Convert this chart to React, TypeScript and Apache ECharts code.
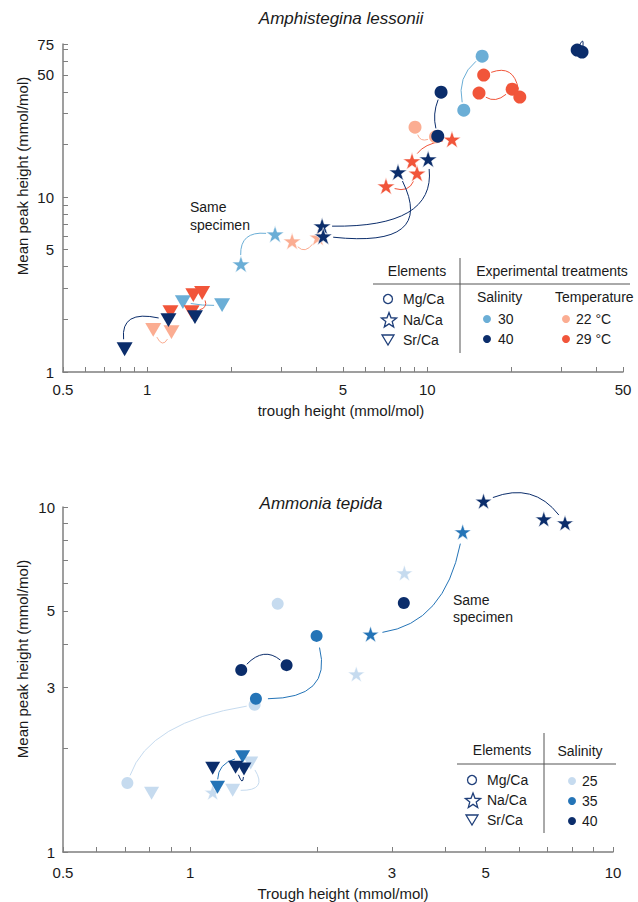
import React, { useEffect, useRef } from 'react';
import * as echarts from 'echarts';

// ---------- Amphistegina lessonii (top) ----------
const A_X_TICKS = [0.5, 0.6, 0.7, 0.8, 0.9, 1, 2, 3, 4, 5, 6, 7, 8, 9, 10, 20, 30, 40, 50];
const A_X_LABELS = [0.5, 1, 5, 10, 50];
const A_Y_TICKS = [1, 2, 3, 4, 5, 6, 7, 8, 9, 10, 20, 30, 40, 50, 60, 70, 75];
const A_Y_LABELS = [1, 5, 10, 50, 75];

const A_MG_S30 = [[15.7, 63.9], [13.5, 31.4]];
const A_MG_S40 = [[34.3, 69.2], [35.7, 67.4], [11.2, 39.8], [10.9, 22.3]];
const A_MG_T22 = [[9.04, 25.1], [10.7, 22.1]];
const A_MG_T29 = [[15.9, 49.8], [15.3, 39.3], [20.1, 41.4], [21.4, 37.3]];
const A_NA_S30 = [[2.86, 6.14], [2.16, 4.14]];
const A_NA_S40 = [[10.07, 16.5], [7.86, 13.9], [4.21, 6.83], [4.25, 5.98]];
const A_NA_T22 = [[3.29, 5.6], [4.07, 5.9]];
const A_NA_T29 = [[12.25, 21.4], [8.82, 16.1], [9.19, 13.7], [7.12, 11.56]];
const A_SR_S30 = [[1.34, 2.51], [1.85, 2.41]];
const A_SR_S40 = [[0.83, 1.35], [1.19, 1.98], [1.48, 2.06]];
const A_SR_T22 = [[1.05, 1.74], [1.22, 1.69]];
const A_SR_T29 = [[1.21, 2.2], [1.46, 2.75], [1.57, 2.83], [1.44, 2.2]];

// same-specimen links: pairs of points, colour key
const A_LINKS = [
  { c: 's40', from: [34.3, 69.2], to: [35.7, 67.4] },
  { c: 's30', from: [15.7, 63.9], to: [13.5, 31.4] },
  { c: 't29', from: [15.9, 49.8], to: [21.4, 37.3] },
  { c: 't29', from: [15.3, 39.3], to: [20.1, 41.4] },
  { c: 's40', from: [11.2, 39.8], to: [10.9, 22.3] },
  { c: 't22', from: [9.04, 25.1], to: [10.7, 22.1] },
  { c: 't29', from: [8.82, 16.1], to: [12.25, 21.4] },
  { c: 't29', from: [7.12, 11.56], to: [9.19, 13.7] },
  { c: 's40', from: [4.21, 6.83], to: [10.07, 16.5] },
  { c: 's40', from: [4.25, 5.98], to: [7.86, 13.9] },
  { c: 't22', from: [3.29, 5.6], to: [4.07, 5.9] },
  { c: 's30', from: [2.16, 4.14], to: [2.86, 6.14] },
  { c: 's40', from: [0.83, 1.35], to: [1.19, 1.98] },
  { c: 't22', from: [1.05, 1.74], to: [1.22, 1.69] },
  { c: 's30', from: [1.34, 2.51], to: [1.85, 2.41] },
  { c: 't29', from: [1.57, 2.83], to: [1.44, 2.2] },
];
// curve styling (control-point offset in px, end gap in px)
const A_BENDS = [[6, -20, 0], [-16, -6, 8], [12, -22, 8], [0, 12, 8], [-7, 0, 8], [-5, 10, 8], [-8, -6, 9], [7, 13, 9], [60, 35, 10], [75, 44, 10], [0, 15, 8], [-18, -18, 9], [-26, -25, 10], [0, 17, 8], [0, 2, 8], [11, 5, 8]];

// ---------- Ammonia tepida (bottom) ----------
const B_X_TICKS = [0.5, 0.6, 0.7, 0.8, 0.9, 1, 2, 3, 4, 5, 6, 7, 8, 9, 10];
const B_X_LABELS = [0.5, 1, 3, 5, 10];
const B_Y_TICKS = [1, 2, 3, 4, 5, 6, 7, 8, 9, 10];
const B_Y_LABELS = [1, 3, 5, 10];

const B_MG_S25 = [[1.61, 5.24], [1.42, 2.67], [0.71, 1.585]];
const B_MG_S35 = [[1.99, 4.23], [1.43, 2.78]];
const B_MG_S40 = [[3.2, 5.27], [1.69, 3.48], [1.32, 3.37]];
const B_NA_S25 = [[3.21, 6.44], [2.47, 3.28], [1.13, 1.49]];
const B_NA_S35 = [[4.41, 8.47], [2.67, 4.28]];
const B_NA_S40 = [[4.94, 10.4], [6.86, 9.23], [7.7, 8.99]];
const B_SR_S25 = [[1.39, 1.81], [1.26, 1.51], [0.81, 1.48]];
const B_SR_S35 = [[1.33, 1.89], [1.16, 1.54]];
const B_SR_S40 = [[1.13, 1.75], [1.28, 1.76], [1.34, 1.74]];

const B_LINKS = [
  { c: 'b40', from: [4.94, 10.4], to: [7.7, 8.99] },
  { c: 'b35', from: [2.67, 4.28], to: [4.41, 8.47] },
  { c: 'b40', from: [1.32, 3.37], to: [1.69, 3.48] },
  { c: 'b35', from: [1.99, 4.23], to: [1.43, 2.78] },
  { c: 'b25', from: [0.71, 1.585], to: [1.42, 2.67] },
  { c: 'b35', from: [1.16, 1.54], to: [1.33, 1.89] },
  { c: 'b25', from: [1.26, 1.51], to: [1.39, 1.81] },
  { c: 'b40', from: [1.28, 1.76], to: [1.34, 1.74] },
];
const B_BENDS = [[9, -30, 10], [28, 40, 12], [0, -21, 8], [46, 31, 12], [-42, -22, 8], [-12, -8, 8], [26, 14, 8], [3, 18, 8]];

const COLORS: Record<string, string> = {
  s30: '#6baed6',
  s40: '#0b2d6b',
  t22: '#fbad92',
  t29: '#f1553a',
  b25: '#c6dbef',
  b35: '#2474b7',
  b40: '#0b2d6b',
};

const AXIS = '#7f7f7f';
const TXT = '#1a1a1a';
const FONT = '"Liberation Sans", Arial, sans-serif';
const NAVY = '#1f3f7a';

const STAR = 'path://M50,2 L61.2,36.2 L97.1,36.2 L68.1,57.3 L79.2,91.5 L50,70.4 L20.8,91.5 L31.9,57.3 L2.9,36.2 L38.8,36.2 Z';
const TRI = 'path://M0,0 L100,0 L50,86.6 Z';

function scatter(data: number[][], idx: number, kind: string, color: string, big: boolean) {
  let symbol = 'circle';
  let size = big ? 13 : 12;
  if (kind === 'star') { symbol = STAR; size = big ? 18 : 17; }
  if (kind === 'tri') { symbol = TRI; size = big ? 16 : 15; }
  return {
    type: 'scatter',
    xAxisIndex: idx,
    yAxisIndex: idx,
    data,
    symbol,
    symbolSize: size,
    symbolKeepAspect: true,
    clip: false,
    itemStyle: { color, opacity: 1, borderColor: kind === 'star' ? '#ffffff' : undefined, borderWidth: kind === 'star' ? 0.6 : 0 },
    silent: true,
    z: 3,
  };
}

function links(list: any[], bends: number[][], idx: number) {
  return {
    type: 'custom',
    xAxisIndex: idx,
    yAxisIndex: idx,
    silent: true,
    clip: false,
    z: 2,
    data: list.map((l) => [l.from[0], l.from[1], l.to[0], l.to[1]]),
    encode: { x: [0, 2], y: [1, 3] },
    renderItem: (params: any, api: any) => {
      const l = list[params.dataIndex];
      const b = bends[params.dataIndex];
      const p1 = api.coord([api.value(0), api.value(1)]);
      const p2 = api.coord([api.value(2), api.value(3)]);
      const cx = (p1[0] + p2[0]) / 2 + b[0];
      const cy = (p1[1] + p2[1]) / 2 + b[1];
      const sh = (p: number[]) => {
        const dx = cx - p[0];
        const dy = cy - p[1];
        const d = Math.sqrt(dx * dx + dy * dy) || 1;
        return [p[0] + (dx / d) * b[2], p[1] + (dy / d) * b[2]];
      };
      const s = sh(p1);
      const e = sh(p2);
      return {
        type: 'bezierCurve',
        shape: { x1: s[0], y1: s[1], x2: e[0], y2: e[1], cpx1: cx, cpy1: cy },
        style: { stroke: COLORS[l.c], lineWidth: 1, fill: 'none' },
      };
    },
  };
}

function logAxis(idx: number, min: number, max: number, ticks: number[], labels: number[], margin: number) {
  return {
    gridIndex: idx,
    type: 'log',
    logBase: 10,
    min,
    max,
    axisLine: { show: true, onZero: false, lineStyle: { color: AXIS, width: 1.5 } },
    axisTick: { show: true, inside: true, length: 5, customValues: ticks, lineStyle: { color: AXIS, width: 1 } },
    axisLabel: {
      show: true,
      customValues: labels,
      margin,
      fontSize: 15,
      color: TXT,
      fontFamily: FONT,
      formatter: (v: number) => String(v),
      showMinLabel: true,
      showMaxLabel: true,
    },
    splitLine: { show: false },
    minorTick: { show: false },
  };
}

function starPts(cx: number, cy: number, R: number, r: number) {
  const pts: number[][] = [];
  for (let i = 0; i < 10; i++) {
    const a = -Math.PI / 2 + (i * Math.PI) / 5;
    const rad = i % 2 ? r : R;
    pts.push([cx + rad * Math.cos(a), cy + rad * Math.sin(a)]);
  }
  return pts;
}

function txt(x: number, y: number, text: string, size: number, align = 'left', extra: any = {}) {
  return {
    type: 'text',
    x,
    y,
    silent: true,
    style: { text, fontSize: size, fontFamily: FONT, fill: TXT, align, verticalAlign: 'middle', ...extra },
  };
}

function dot(x: number, y: number, color: string) {
  return { type: 'circle', silent: true, shape: { cx: x, cy: y, r: 4 }, style: { fill: color } };
}

function elementKey(x: number, y0: number, dy: number, tx: number) {
  return [
    { type: 'circle', silent: true, shape: { cx: x, cy: y0, r: 4.5 }, style: { fill: 'none', stroke: NAVY, lineWidth: 1.3 } },
    { type: 'polygon', silent: true, shape: { points: starPts(x + 1, y0 + dy + 1, 8, 3.4) }, style: { fill: 'none', stroke: NAVY, lineWidth: 1.3 } },
    { type: 'polygon', silent: true, shape: { points: [[x - 6, y0 + 2 * dy - 5], [x + 6, y0 + 2 * dy - 5], [x, y0 + 2 * dy + 5]] }, style: { fill: 'none', stroke: NAVY, lineWidth: 1.3 } },
    txt(tx, y0, 'Mg/Ca', 14),
    txt(tx, y0 + dy, 'Na/Ca', 14),
    txt(tx, y0 + 2 * dy, 'Sr/Ca', 14),
  ];
}

export default function App() {
  const ref = useRef<HTMLDivElement>(null);
  useEffect(() => {
    if (!ref.current) return;
    const chart = echarts.init(ref.current, undefined, { renderer: 'svg' });
    const graphic: any[] = [
      txt(341, 18, 'Amphistegina lessonii', 17, 'center', { fontStyle: 'italic' }),
      txt(321, 503, 'Ammonia tepida', 17, 'center', { fontStyle: 'italic' }),
      txt(341, 410, 'trough height (mmol/mol)', 15, 'center'),
      txt(343, 893, 'Trough height (mmol/mol)', 15, 'center'),
      { ...txt(22, 176, 'Mean peak height (mmol/mol)', 15, 'center'), rotation: Math.PI / 2 },
      { ...txt(22, 659, 'Mean peak height (mmol/mol)', 15, 'center'), rotation: Math.PI / 2 },
      txt(190, 207, 'Same', 14),
      txt(190, 225, 'specimen', 14),
      txt(453, 600, 'Same', 14),
      txt(453, 617, 'specimen', 14),
      // top legend
      txt(417, 271, 'Elements', 14, 'center'),
      txt(552, 271, 'Experimental treatments', 14, 'center'),
      { type: 'line', silent: true, shape: { x1: 460, y1: 258, x2: 460, y2: 353 }, style: { stroke: '#555', lineWidth: 1 } },
      { type: 'line', silent: true, shape: { x1: 373, y1: 284, x2: 630, y2: 284 }, style: { stroke: '#555', lineWidth: 1 } },
      ...elementKey(388, 299, 20.5, 403),
      txt(477, 297, 'Salinity', 14),
      txt(555, 297, 'Temperature', 14),
      dot(487, 319, COLORS.s30),
      dot(487, 339, COLORS.s40),
      txt(498, 319, '30', 14),
      txt(498, 339, '40', 14),
      dot(566, 319, COLORS.t22),
      dot(566, 339, COLORS.t29),
      txt(576, 319, '22 °C', 14),
      txt(576, 339, '29 °C', 14),
      // bottom legend
      txt(502, 750, 'Elements', 14, 'center'),
      txt(580, 751, 'Salinity', 14, 'center'),
      { type: 'line', silent: true, shape: { x1: 544, y1: 733, x2: 544, y2: 833 }, style: { stroke: '#555', lineWidth: 1 } },
      { type: 'line', silent: true, shape: { x1: 457, y1: 764, x2: 616, y2: 764 }, style: { stroke: '#555', lineWidth: 1 } },
      ...elementKey(472, 780, 20, 487),
      dot(572, 781, COLORS.b25),
      dot(572, 801, COLORS.b35),
      dot(572, 821, COLORS.b40),
      txt(582, 781, '25', 14),
      txt(582, 801, '35', 14),
      txt(582, 821, '40', 14),
    ];

    chart.setOption({
      animation: false,
      backgroundColor: '#ffffff',
      grid: [
        { left: 63, top: 44, width: 560, height: 328, containLabel: false },
        { left: 63, top: 507, width: 550, height: 345, containLabel: false },
      ],
      xAxis: [
        logAxis(0, 0.5, 50, A_X_TICKS, A_X_LABELS, 10),
        logAxis(1, 0.5, 10, B_X_TICKS, B_X_LABELS, 13),
      ],
      yAxis: [
        logAxis(0, 1, 75, A_Y_TICKS, A_Y_LABELS, 9),
        logAxis(1, 1, 10, B_Y_TICKS, B_Y_LABELS, 8),
      ],
      series: [
        links(A_LINKS, A_BENDS, 0),
        scatter(A_MG_T22, 0, 'circle', COLORS.t22, true),
        scatter(A_NA_T22, 0, 'star', COLORS.t22, true),
        scatter(A_SR_T22, 0, 'tri', COLORS.t22, true),
        scatter(A_MG_S30, 0, 'circle', COLORS.s30, true),
        scatter(A_NA_S30, 0, 'star', COLORS.s30, true),
        scatter(A_SR_S30, 0, 'tri', COLORS.s30, true),
        scatter(A_MG_T29, 0, 'circle', COLORS.t29, true),
        scatter(A_NA_T29, 0, 'star', COLORS.t29, true),
        scatter(A_SR_T29, 0, 'tri', COLORS.t29, true),
        scatter(A_MG_S40, 0, 'circle', COLORS.s40, true),
        scatter(A_NA_S40, 0, 'star', COLORS.s40, true),
        scatter(A_SR_S40, 0, 'tri', COLORS.s40, true),
        links(B_LINKS, B_BENDS, 1),
        scatter(B_MG_S25, 1, 'circle', COLORS.b25, false),
        scatter(B_NA_S25, 1, 'star', COLORS.b25, false),
        scatter(B_SR_S25, 1, 'tri', COLORS.b25, false),
        scatter(B_MG_S35, 1, 'circle', COLORS.b35, false),
        scatter(B_NA_S35, 1, 'star', COLORS.b35, false),
        scatter(B_SR_S35, 1, 'tri', COLORS.b35, false),
        scatter(B_MG_S40, 1, 'circle', COLORS.b40, false),
        scatter(B_NA_S40, 1, 'star', COLORS.b40, false),
        scatter(B_SR_S40, 1, 'tri', COLORS.b40, false),
      ],
      graphic,
    });
    return () => chart.dispose();
  }, []);
  return <div ref={ref} style={{ position: 'fixed', left: 0, top: 0, width: 638, height: 902, background: '#fff' }} />;
}
